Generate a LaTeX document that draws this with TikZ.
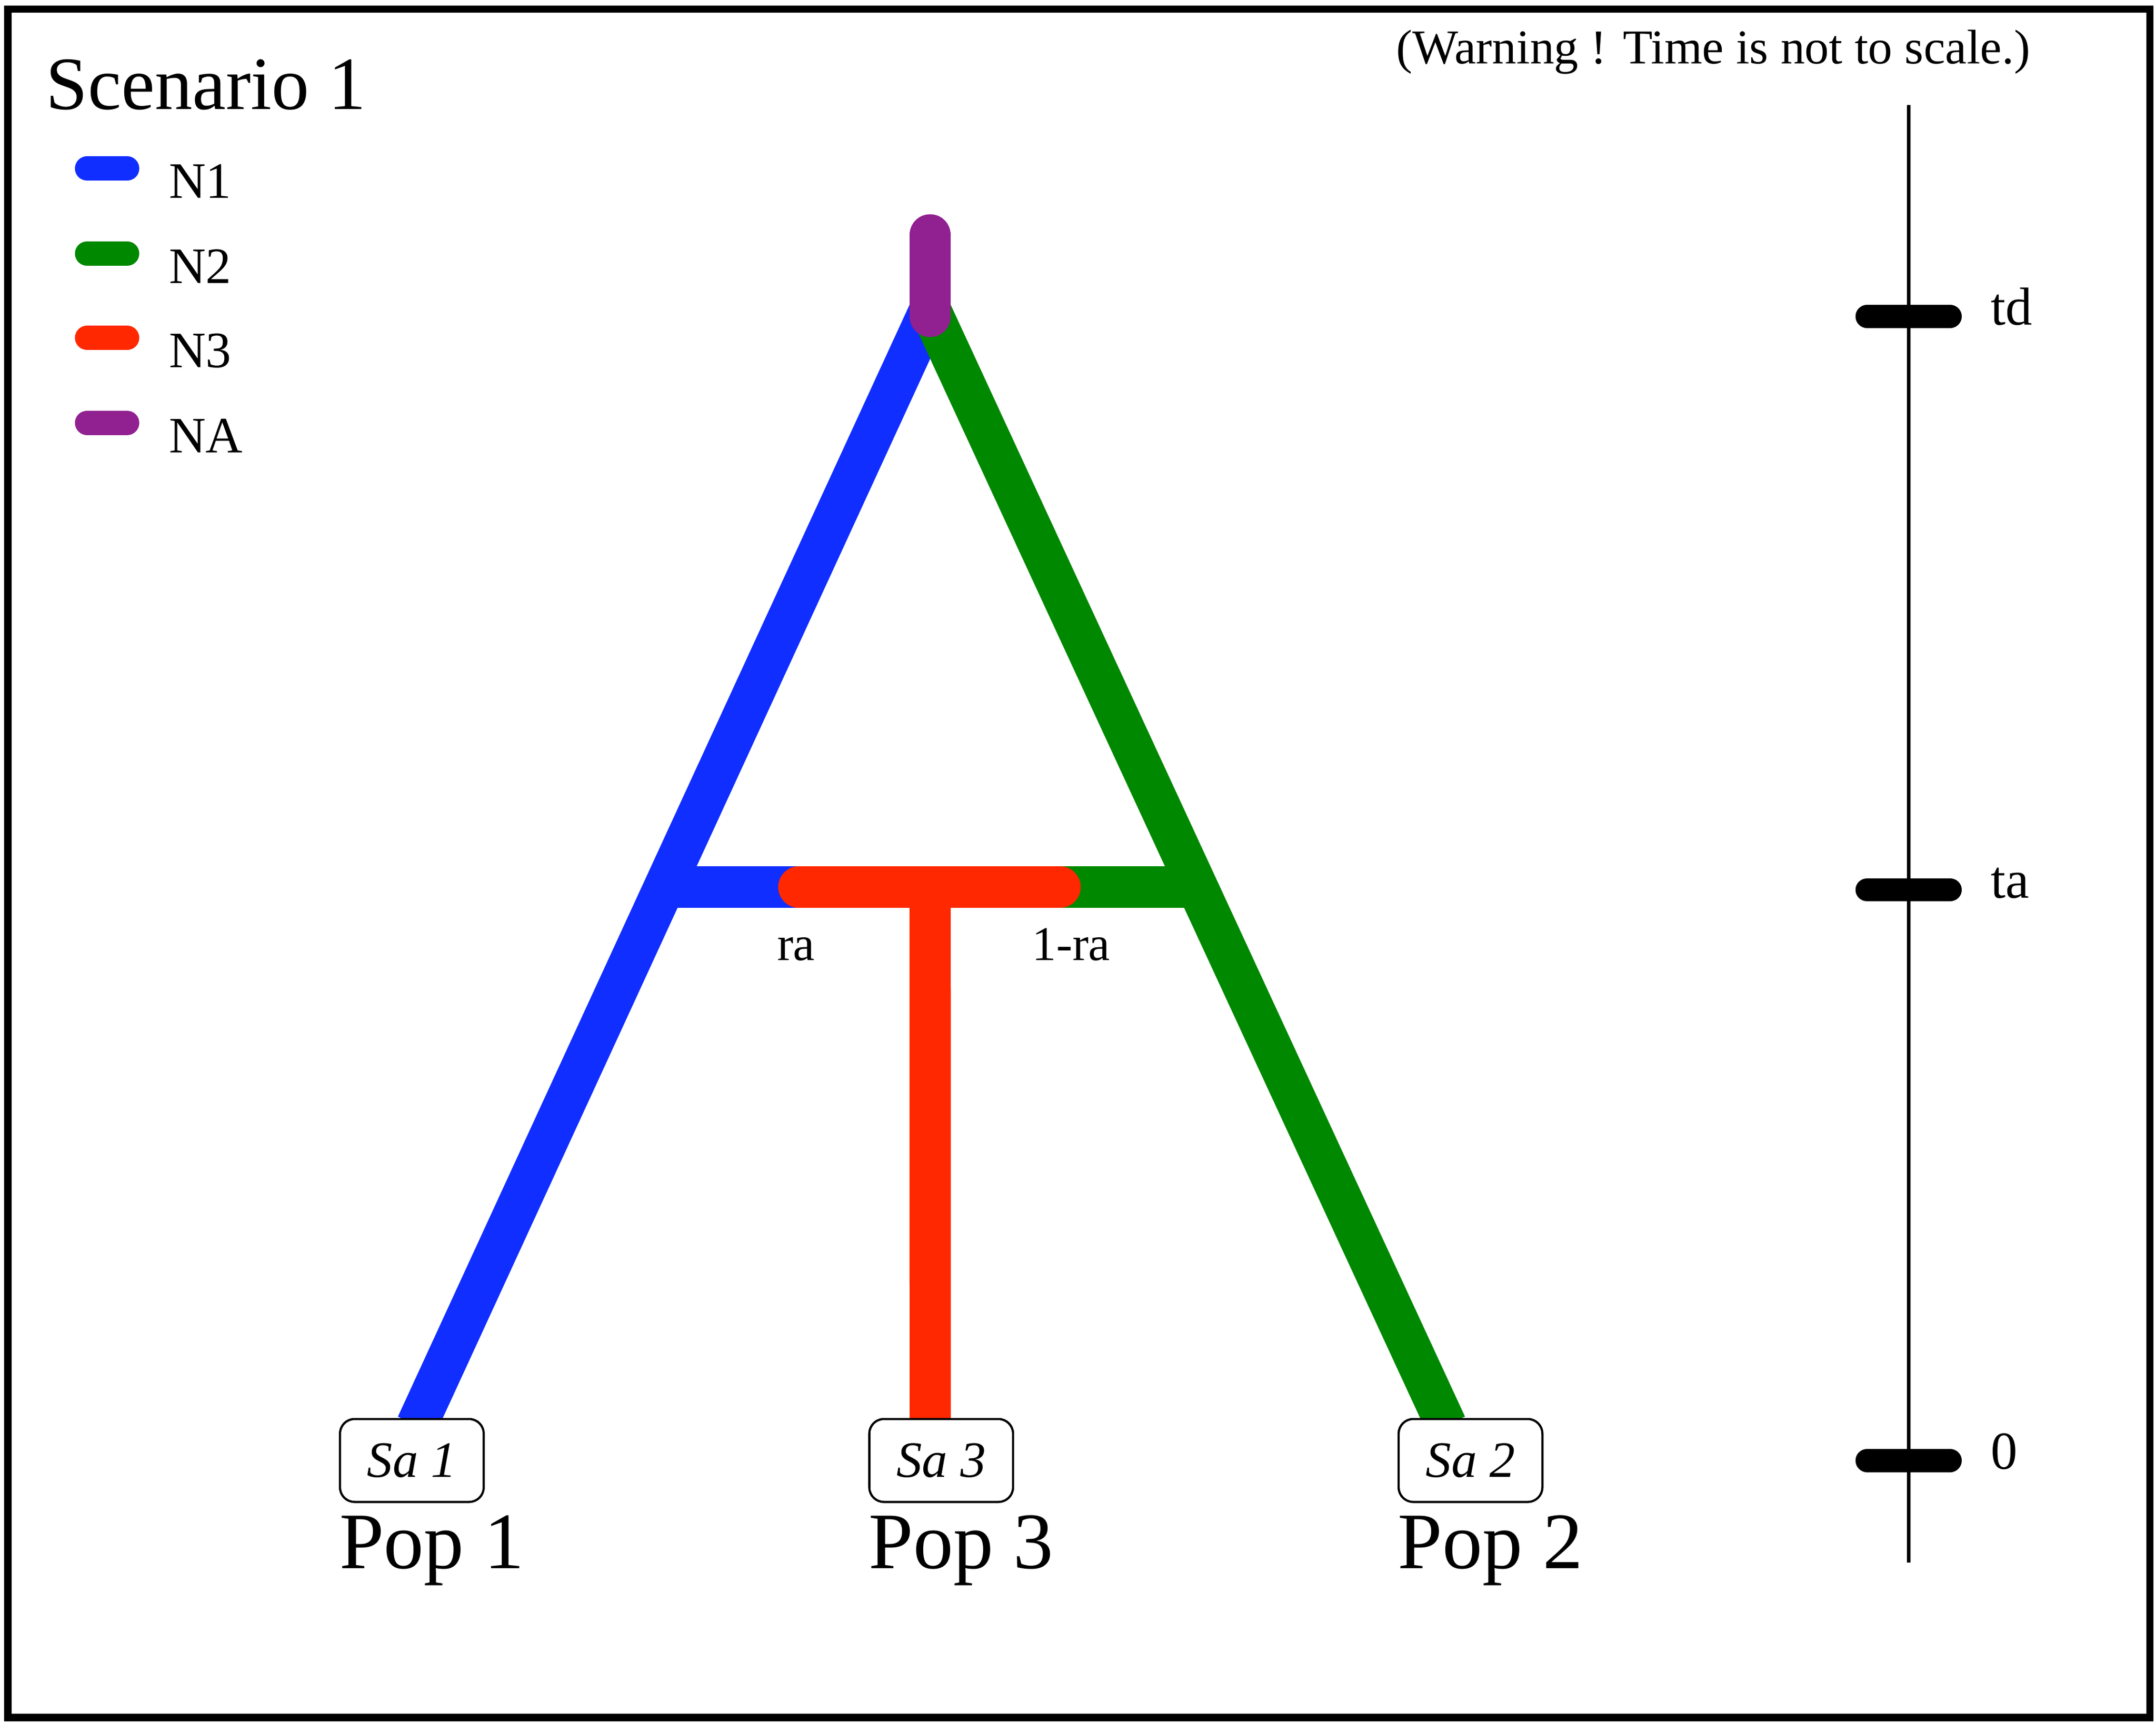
\documentclass[tikz,border=0pt]{standalone}
\usepackage{fontspec}
\setmainfont{Liberation Serif}
\usetikzlibrary{positioning,backgrounds}

\definecolor{popblue}{RGB}{16,46,255}
\definecolor{popgreen}{RGB}{0,136,0}
\definecolor{popred}{RGB}{255,40,0}
\definecolor{poppurple}{RGB}{145,32,145}

\begin{document}
\begin{tikzpicture}[x=0.2mm,y=-0.2mm]
    \tikzstyle{branch}       = [line width=17pt]
    \tikzstyle{swatch}       = [line width=10pt,line cap=round]
    \tikzstyle{time tick}    = [line width=9.6pt,line cap=round,black]
    \tikzstyle{sample box}   = [draw,fill=white,rounded corners=6pt,line width=0.9pt,minimum width=20.8mm,minimum height=12mm,inner sep=0pt,font=\fontsize{21}{25}\selectfont\itshape]
    \tikzstyle{pop label}    = [inner sep=0pt,font=\fontsize{33}{38}\selectfont]
    \tikzstyle{small label}  = [inner sep=0pt,font=\fontsize{20}{24}\selectfont]
    \tikzstyle{legend label} = [inner sep=0pt,font=\fontsize{21}{25}\selectfont]
    \tikzstyle{time label}   = [inner sep=0pt,font=\fontsize{22}{26}\selectfont]

    \useasboundingbox (0,0) rectangle (1560,1254);
    \draw[line width=3pt] (5.7,6.5) rectangle (1555.5,1243);

    \node[anchor=base west,inner sep=0pt,font=\fontsize{31}{36}\selectfont] (title) at (33,79) {Scenario 1};
    \node[small label,anchor=base west] (warning) at (1010,46) {(Warning ! Time is not to scale.)};

    % legend
    \foreach \y/\col/\name in {122/popblue/N1, 183.5/popgreen/N2, 244.5/popred/N3, 306/poppurple/NA}{
        \draw[swatch,color=\col] (63,\y) -- (92,\y);
        \node[legend label,anchor=base west] (leg \name) at (122,\y+21.5) {\name};
    }

    % samples
    \node[sample box] (sa1) at (298,1057)  {Sa 1};
    \node[sample box] (sa3) at (681,1057)  {Sa 3};
    \node[sample box] (sa2) at (1064,1057) {Sa 2};
    \node[pop label,below=27pt of sa1.south west,anchor=base west] (pop1) {Pop 1};
    \node[pop label,below=27pt of sa3.south west,anchor=base west] (pop3) {Pop 3};
    \node[pop label,below=27pt of sa2.south west,anchor=base west] (pop2) {Pop 2};

    % tree
    \coordinate (origin)     at (673,170);
    \coordinate (origin end) at (673,229);
    \coordinate (root)       at (673,224);
    \coordinate (joinL)      at (481,642);
    \coordinate (joinR)      at (860,642);
    \coordinate (adm left)   at (578,642);
    \coordinate (adm right)  at (767,642);
    \coordinate (adm)        at (673,642);

    \begin{pgfonlayer}{background}
    \draw[branch,popblue]  (root) -- ([xshift=2pt,yshift=-3pt]sa1.north);
    \draw[branch,popgreen] (root) -- ([xshift=-10pt,yshift=-3pt]sa2.north);
    \draw[branch,popblue]  (joinL) -- (adm left);
    \draw[branch,popgreen] (adm right) -- (joinR);
    \draw[branch,popred,line cap=round] (adm left) -- (adm right);
    \draw[branch,popred]   (adm) -- ([xshift=-4.5pt]sa3.north);
    \draw[branch,poppurple,line cap=round] (origin) -- (origin end);
    \end{pgfonlayer}

    \node[small label,anchor=base] (ra)     at (576,695) {ra};
    \node[small label,anchor=base] (one ra) at (775,695) {1-ra};

    % time axis
    \coordinate (axis top)    at (1381,76);
    \coordinate (axis bottom) at (1381,1131);
    \draw[line width=1.5pt] (axis top) -- (axis bottom);
    \foreach \y/\name in {229/td, 644/ta, 1057/0}{
        \draw[time tick] (1351,\y) -- (1411,\y);
        \node[time label,anchor=base west] (time \name) at (1440,\y+6) {\name};
    }
\end{tikzpicture}
\end{document}
